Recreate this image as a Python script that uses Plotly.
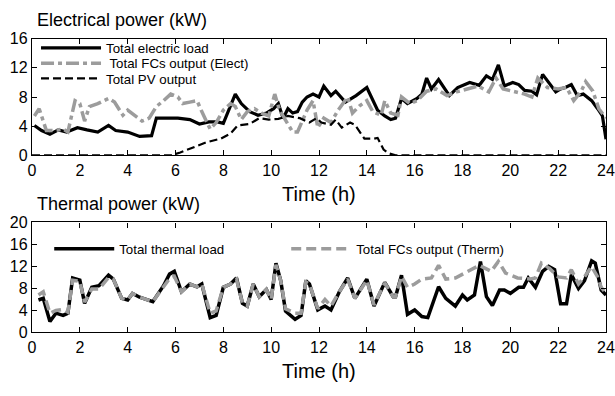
import plotly.graph_objects as go

# ---------------- data ----------------
# Electrical power (kW)
h_load_e = [0.1,0.4,0.75,1.1,1.45,1.9,2.3,2.75,3.2,3.5,4.0,4.5,5.0,5.2,5.7,6.1,6.6,7.0,7.4,7.75,
            8.0,8.25,8.5,8.75,9.1,9.45,9.8,10.1,10.3,10.5,10.7,10.9,11.1,11.3,11.5,11.75,12.0,12.2,12.5,12.7,
            13.1,13.55,14.0,14.45,14.75,15.0,15.2,15.45,15.7,16.1,16.3,16.5,16.7,17.0,17.2,17.45,17.8,18.3,18.7,19.0,
            19.25,19.5,19.75,20.1,20.35,20.6,20.9,21.1,21.35,21.6,21.9,22.1,22.3,22.55,22.8,23.05,23.4,23.65,23.85,24.0]
load_e = [4.1,3.4,2.9,3.5,3.2,3.8,3.5,3.2,4.1,3.4,3.2,2.6,2.7,5.1,5.1,5.1,4.9,4.3,4.6,4.6,
          4.4,6.5,8.4,7.1,6.0,5.5,5.8,6.4,7.1,5.1,6.4,5.8,6.0,7.3,8.0,8.4,8.0,9.5,8.2,8.8,
          7.3,8.2,9.3,6.2,5.4,4.9,5.1,7.8,7.1,7.8,8.4,10.6,9.1,10.4,9.5,8.2,9.3,10.0,9.6,10.9,
          10.4,12.4,9.5,10.0,9.7,8.9,8.8,8.3,11.1,10.0,8.7,9.1,9.3,9.7,8.2,8.4,7.5,6.4,5.4,2.2]

h_fc_e = [0.1,0.3,0.6,0.95,1.3,1.5,1.8,2.0,2.2,2.4,2.75,3.2,3.45,3.8,4.0,4.3,4.6,4.9,5.2,5.5,
          5.8,6.1,6.3,6.6,6.9,7.1,7.45,7.7,8.0,8.3,8.5,8.75,9.0,9.3,9.6,9.9,10.15,10.35,10.6,10.9,
          11.1,11.5,11.75,11.95,12.2,12.5,12.8,13.2,13.4,13.7,14.0,14.25,14.6,14.75,15.0,15.3,15.45,15.8,16.1,16.5,
          16.9,17.35,17.75,18.2,18.65,19.1,19.4,19.7,20.15,20.6,20.9,21.15,21.55,22.0,22.35,22.65,22.95,23.15,23.45,23.7,24.0]
fc_e = [5.4,6.4,3.4,3.4,3.6,3.2,7.5,7.1,4.7,6.7,7.1,7.8,7.3,5.5,6.2,5.5,4.7,5.1,6.7,7.5,
        8.4,8.0,7.1,7.3,7.5,6.0,3.6,4.5,6.2,7.1,6.7,4.9,6.0,6.4,5.8,5.4,8.4,6.2,4.9,3.2,
        3.2,6.2,7.5,3.8,5.1,4.5,6.2,8.0,5.8,6.8,7.5,6.0,5.5,7.5,5.8,5.5,8.0,7.1,7.5,8.8,
        9.1,8.2,8.7,9.1,9.5,8.7,10.6,9.1,8.7,8.4,8.0,10.6,9.3,9.1,9.3,7.5,8.7,10.1,8.8,6.4,5.1]

h_pv = [0,5.8,6.2,6.7,7.3,7.9,8.3,8.6,9.1,9.5,9.9,10.3,10.7,11.2,11.6,11.9,12.1,12.5,12.7,12.95,
        13.3,13.5,13.9,14.3,14.45,14.7,14.9,15.2,24]
pv = [0,0,0.4,1.0,1.8,2.3,3.0,4.1,4.3,5.1,4.9,5.0,5.4,5.1,4.5,5.1,4.5,4.2,4.9,3.8,
      4.5,4.2,2.3,2.3,2.4,0.8,0.3,0,0]

# Thermal power (kW)
h_th = [0.27,0.47,0.75,1.0,1.3,1.5,1.7,2.0,2.2,2.5,2.8,3.2,3.4,3.75,4.0,4.2,4.5,4.9,5.05,5.5,
        5.75,5.95,6.25,6.6,6.9,7.1,7.45,7.7,8.0,8.3,8.55,8.8,9.0,9.25,9.5,9.8,10.0,10.2,10.4,10.6,
        11.0,11.25,11.45,11.6,11.95,12.25,12.5,12.85,13.2,13.5,14.0,14.3,14.75,15.1,15.2,15.45,15.7,16.0,16.3,16.55,
        17.0,17.3,17.7,18.0,18.2,18.5,18.75,19.0,19.25,19.55,19.75,20.0,20.35,20.55,20.75,21.05,21.35,21.6,21.85,22.1,
        22.35,22.55,22.85,23.1,23.4,23.55,23.8,24.0]
load_th = [5.9,6.2,2.0,3.5,3.1,3.5,9.9,9.5,5.3,8.2,8.5,10.4,9.7,6.2,5.9,7.1,6.4,5.8,5.6,8.5,
           10.6,11.1,7.4,8.8,8.3,8.8,2.7,3.1,8.2,8.8,9.9,5.3,4.8,8.8,6.5,7.8,6.0,12.6,9.4,3.9,
           2.4,3.1,9.4,8.8,4.1,4.8,4.1,7.4,9.9,6.2,9.7,4.8,9.1,6.5,6.5,10.4,3.3,4.1,2.9,2.7,
           8.3,6.2,4.8,6.8,5.9,6.8,12.9,6.5,4.9,7.7,7.7,7.1,8.2,8.2,9.9,8.2,11.1,12.0,11.4,5.2,
           5.2,10.5,8.0,9.4,13.0,12.6,7.7,6.8]

h_fc_th = [0.27,0.47,0.75,1.0,1.3,1.5,1.7,2.0,2.2,2.5,2.8,3.2,3.4,3.75,4.0,4.2,4.5,4.9,5.05,5.5,
           5.75,5.95,6.25,6.6,6.9,7.1,7.45,7.7,8.0,8.3,8.55,8.8,9.0,9.25,9.5,9.8,10.0,10.2,10.4,10.6,
           11.0,11.25,11.45,11.6,11.95,12.25,12.5,12.85,13.2,13.5,14.0,14.3,14.75,15.1,15.2,15.45,
           15.7,16.0,16.3,16.7,17.0,17.3,17.7,18.1,18.7,19.2,19.5,19.8,20.3,20.85,21.05,21.3,21.65,22.0,
           22.35,22.55,22.85,23.1,23.4,23.65,23.8,24.0]
fc_th = [6.8,7.4,3.5,4.0,4.2,3.7,9.5,9.3,5.5,7.9,7.9,10.0,9.7,6.2,5.9,7.1,6.4,5.8,5.6,8.3,
         9.8,10.2,7.4,8.8,8.3,8.8,3.5,3.9,8.2,8.8,9.7,5.3,4.8,8.8,6.5,7.8,6.0,12.3,9.4,4.3,
         3.5,3.5,9.2,8.8,4.3,6.0,4.8,7.4,9.7,6.2,9.5,5.0,9.0,6.5,6.5,10.2,
         8.2,8.8,9.7,9.9,12.2,9.7,9.9,10.8,12.2,11.1,12.9,10.8,9.9,9.7,9.9,12.6,11.6,10.1,
         9.9,11.4,8.8,10.1,12.0,10.1,8.2,7.1]

x_ticks = list(range(0, 25, 2))
FONT = "Liberation Sans, Arial, Helvetica, sans-serif"
GRAY = "#9c9c9c"
LEG_FONT = dict(family=FONT, size=13.3, color="black")

fig = go.Figure()
fig.add_trace(go.Scatter(x=h_load_e, y=load_e, mode="lines", name="Total electric load",
                         line=dict(color="black", width=3.2), xaxis="x", yaxis="y", legend="legend",
                         showlegend=True))
fig.add_trace(go.Scatter(x=h_fc_e, y=fc_e, mode="lines", name=" Total FCs output (Elect)",
                         line=dict(color=GRAY, width=3.5, dash="13px,4px,4px,4px"), xaxis="x", yaxis="y", legend="legend3"))
fig.add_trace(go.Scatter(x=h_pv, y=pv, mode="lines", name="Total PV output",
                         line=dict(color="black", width=2.2, dash="8px,4px"), xaxis="x", yaxis="y", legend="legend4"))
fig.add_trace(go.Scatter(x=h_th, y=load_th, mode="lines", name="Total thermal load",
                         line=dict(color="black", width=3.5), xaxis="x2", yaxis="y2", legend="legend2"))
fig.add_trace(go.Scatter(x=h_fc_th, y=fc_th, mode="lines", name="Total FCs output (Therm)",
                         line=dict(color=GRAY, width=3.5, dash="10px,5px"), xaxis="x2", yaxis="y2", legend="legend2"))

axis_common = dict(showline=True, linecolor="black", linewidth=1.3, mirror="ticks", ticks="inside",
                   ticklen=5, tickwidth=1.2, tickcolor="black", showgrid=False, zeroline=False,
                   tickfont=dict(family=FONT, size=16, color="black"), ticklabeloverflow="allow")

def top_leg(ypx):
    return dict(x=0.007, y=1 - ypx / 396, xanchor="left", yanchor="middle", bgcolor="rgba(0,0,0,0)",
                font=LEG_FONT, itemwidth=60)

fig.update_layout(
    width=615, height=396,
    margin=dict(l=32, r=8, t=0, b=0),
    paper_bgcolor="white", plot_bgcolor="white",
    showlegend=True,
    font=dict(family=FONT, color="black"),
    xaxis=dict(domain=[0, 1], anchor="y", range=[0, 24], tickvals=x_ticks, **axis_common),
    yaxis=dict(domain=[0.6111, 0.9192], anchor="x", range=[0, 16], dtick=4, **axis_common),
    xaxis2=dict(domain=[0, 1], anchor="y2", range=[0, 24], tickvals=x_ticks, **axis_common),
    yaxis2=dict(domain=[0.1439, 0.4343], anchor="x2", range=[0, 20], dtick=4, **axis_common),
    legend=top_leg(42),
    legend3=top_leg(58),
    legend4=top_leg(74),
    legend2=dict(x=0.03, y=0.405, xanchor="left", yanchor="top", orientation="h",
                 bgcolor="rgba(0,0,0,0)", font=LEG_FONT,
                 itemwidth=60, entrywidth=162, entrywidthmode="pixels"),
    annotations=[
        dict(text="Electrical power (kW)", x=0.005, y=1 - 13 / 396, xref="paper", yref="paper",
             xanchor="left", yanchor="middle", showarrow=False, font=dict(size=18)),
        dict(text="Thermal power (kW)", x=0.005, y=1 - 205 / 396, xref="paper", yref="paper",
             xanchor="left", yanchor="middle", showarrow=False, font=dict(size=18)),
        dict(text="Time (h)", x=0.5, y=1 - 194 / 396, xref="paper", yref="paper",
             xanchor="center", yanchor="middle", showarrow=False, font=dict(size=20)),
        dict(text="Time (h)", x=0.5, y=1 - 379 / 396, xref="paper", yref="paper",
             xanchor="center", yanchor="middle", showarrow=False, font=dict(size=20)),
    ],
)

fig.write_html("out.html")
